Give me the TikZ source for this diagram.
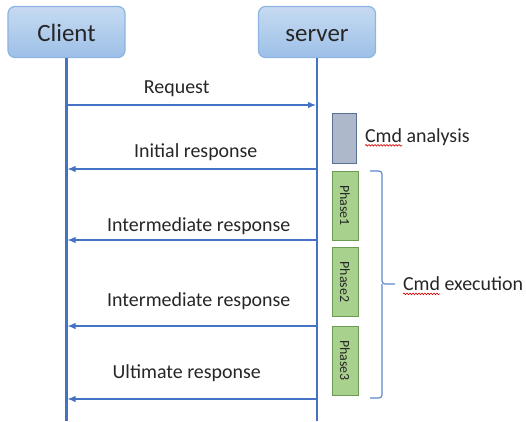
\documentclass[tikz,border=0pt]{standalone}
\usepackage{fontspec}
\setmainfont{Carlito}
\usepackage{xcolor}
\usetikzlibrary{positioning,calc,arrows.meta,decorations.pathmorphing}

\definecolor{lineblue}{HTML}{4472C4}
\definecolor{boxtop}{HTML}{C6DAF1}
\definecolor{boxbot}{HTML}{9DC0E7}
\definecolor{boxline}{HTML}{8DB4E2}
\definecolor{cmdgrey}{HTML}{ADB9CA}
\definecolor{cmdline}{HTML}{5A7196}
\definecolor{phasegreen}{HTML}{A9D18E}
\definecolor{phaseline}{HTML}{6E9B53}
\definecolor{txtgrey}{HTML}{262626}

\begin{document}
\begin{tikzpicture}[
					x=1bp, y=-1bp,
					actor/.style={
						rectangle, rounded corners=7bp,
						draw=boxline, line width=1.2bp,
						top color=boxtop, bottom color=boxbot,
						minimum width=117bp, minimum height=51bp,
						text height=20bp, text depth=1bp,
						font=\fontsize{25}{30}\selectfont, text=txtgrey
					},
					lifeline/.style={draw=lineblue, line width=2.2bp},
					msg/.style={
						draw=lineblue, line width=1.2bp, shorten >=1bp,
						-{Latex[length=8bp,width=6.5bp]}
					},
					msglabel/.style={font=\fontsize{20}{24}\selectfont, text=txtgrey, above=#1},
					msglabel/.default=4bp,
					note/.style={font=\fontsize{20}{24}\selectfont, text=txtgrey, anchor=west},
					cmdbox/.style={draw=cmdline, fill=cmdgrey, line width=1bp,
						minimum width=24bp, minimum height=50bp},
					phasebox/.style={draw=phaseline, fill=phasegreen, line width=1bp,
						rotate=-90, minimum width=69bp, minimum height=26bp,
						inner sep=1bp, font=\fontsize{14}{16}\selectfont, text=txtgrey},
					brace/.style={draw=lineblue!85, line width=1.2bp, rounded corners=3bp},
					spell/.style={draw=red!85!black, line width=0.6bp,
						decorate, decoration={snake, amplitude=0.8bp, segment length=3bp}}
					]
					\useasboundingbox (0,0) rectangle (526,421);
					
					% participants and lifelines
					\node[actor] (client) at (66.5,32) {Client};
					\node[actor] (server) at (317,32) {server};
					\draw[lifeline] (client.south) -- (client.south |- 0,421);
					\draw[lifeline] (server.south) -- (server.south |- 0,421);
					
					% message points on both lifelines
					\foreach \n/\y in {1/105,2/169,3/240,4/326,5/399}{
						\coordinate (c\n) at (client.south |- 0,\y);
						\coordinate (s\n) at (server.south |- 0,\y);
					}
					
					\draw[msg] (c1) -- (s1) node[msglabel, pos=0.44] {Request};
					\draw[msg] (s2) -- (c2) node[msglabel, pos=0.484] {Initial response};
					\draw[msg] (s3) -- (c3) node[msglabel=1bp, pos=0.472] {Intermediate response};
					\draw[msg] (s4) -- (c4) node[msglabel=12bp, pos=0.472] {Intermediate response};
					\draw[msg] (s5) -- (c5) node[msglabel=13bp, pos=0.52] {Ultimate response};
					
					% server side activity
					\node[cmdbox] (analysis) at (344,138) {};
					\foreach \i/\y in {1/205.5,2/282,3/360.5}
						\node[phasebox] (phase\i) at (345,\y) {Phase\i};
					
					\draw[brace] (370,171) -- (382,171) -- (382,284) -- (395,284);
					\draw[brace] (382,284) -- (382,398) -- (370,398);
					
					\node[note] (analysisText) at (361.5,137) {Cmd analysis};
					\node[note] (executionText) at (399.5,284) {Cmd execution};
					
					% spell-check marks under "Cmd"
					\draw[spell] ($(analysisText.base west)+(3.5,3)$) -- ++(37,0);
					\draw[spell] ($(executionText.base west)+(3.5,3)$) -- ++(37,0);
				\end{tikzpicture}
\end{document}
